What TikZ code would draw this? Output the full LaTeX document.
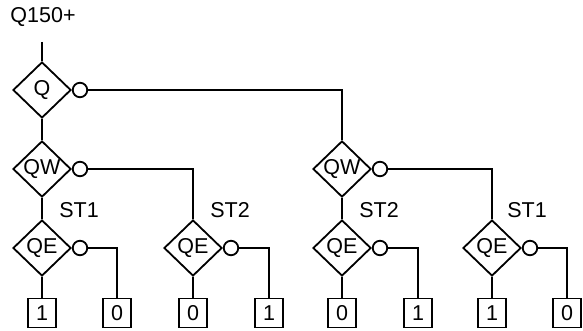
\documentclass[tikz,border=0pt]{standalone}
\usepackage{fontspec}
\setmainfont{Liberation Sans}
\usetikzlibrary{shapes.geometric}
\begin{document}
\begin{tikzpicture}[x=1pt,y=-1pt,
  every node/.style={font=\fontsize{21.5}{24}\selectfont, inner sep=0pt},
  dia/.style={draw, diamond, line width=1.8pt, minimum width=58pt, minimum height=56pt},
  neg/.style={draw, circle, line width=1.8pt, minimum size=14.5pt},
  leaf/.style={draw, rectangle, line width=1.8pt, minimum width=28pt, minimum height=29pt},
  lbl/.style={},
  wire/.style={line width=1.8pt}]
\useasboundingbox (0,0) rectangle (583,331);
\node[lbl] (top) at (43,17) {Q150+};
\coordinate (in) at (42,42);
% level 0
\node[dia] (q) at (42,90) {Q};
\node[neg] (nq) at (80,90) {};
% level 1
\node[dia] (qw1) at (42,169) {QW};
\node[neg] (nqw1) at (80,169) {};
\node[dia] (qw2) at (342,169) {QW};
\node[neg] (nqw2) at (380,169) {};
% labels
\node[lbl] (st1a) at (79,210) {ST1};
\node[lbl] (st2a) at (230,210) {ST2};
\node[lbl] (st2b) at (379,210) {ST2};
\node[lbl] (st1b) at (527,210) {ST1};
% level 2
\node[dia] (qe1) at (42,248) {QE};
\node[neg] (nqe1) at (80,248) {};
\node[dia] (qe2) at (193,248) {QE};
\node[neg] (nqe2) at (231,248) {};
\node[dia] (qe3) at (342,248) {QE};
\node[neg] (nqe3) at (380,248) {};
\node[dia] (qe4) at (492,248) {QE};
\node[neg] (nqe4) at (530,248) {};
% leaves
\node[leaf] (l1) at (42,313) {1};
\node[leaf] (l2) at (117,313) {0};
\node[leaf] (l3) at (193,313) {0};
\node[leaf] (l4) at (269,313) {1};
\node[leaf] (l5) at (342,313) {0};
\node[leaf] (l6) at (418,313) {1};
\node[leaf] (l7) at (492,313) {1};
\node[leaf] (l8) at (567,313) {0};
% wires
\draw[wire] (in) -- (q.north);
\draw[wire] (q.south) -- (qw1.north);
\draw[wire] (nq.east) -| (qw2.north);
\draw[wire] (qw1.south) -- (qe1.north);
\draw[wire] (nqw1.east) -| (qe2.north);
\draw[wire] (qw2.south) -- (qe3.north);
\draw[wire] (nqw2.east) -| (qe4.north);
\draw[wire] (qe1.south) -- (l1.north);
\draw[wire] (nqe1.east) -| (l2.north);
\draw[wire] (qe2.south) -- (l3.north);
\draw[wire] (nqe2.east) -| (l4.north);
\draw[wire] (qe3.south) -- (l5.north);
\draw[wire] (nqe3.east) -| (l6.north);
\draw[wire] (qe4.south) -- (l7.north);
\draw[wire] (nqe4.east) -| (l8.north);
\end{tikzpicture}
\end{document}
